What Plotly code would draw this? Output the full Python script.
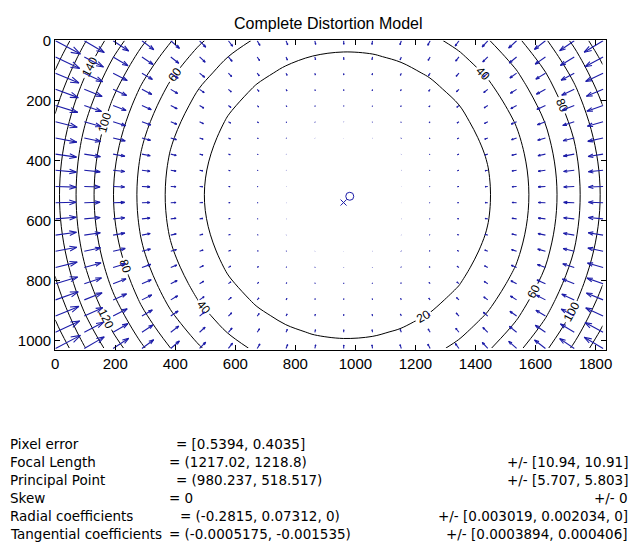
import numpy as np
import plotly.graph_objects as go
import plotly.figure_factory as ff

# ---- calibration results ----
image_size = [1920, 1080]                 # nx, ny
focal_length = [1217.02, 1218.8]
principal_point = [980.237, 518.517]
skew = 0.0
radial_coeffs = [-0.2815, 0.07312, 0.0]
tangential_coeffs = [-0.0005175, -0.001535]

contour_levels = [20, 40, 60, 80, 100, 120, 140, 160, 180, 200]
x_ticks = [0, 200, 400, 600, 800, 1000, 1200, 1400, 1600, 1800]
y_ticks = [0, 200, 400, 600, 800, 1000]

label_lines = ["Pixel error", "Focal Length", "Principal Point", "Skew",
               "Radial coefficients", "Tangential coefficients"]
value_lines = ["= [0.5394, 0.4035]", "= (1217.02, 1218.8)", "= (980.237, 518.517)",
               "= 0", "= (-0.2815, 0.07312, 0)", "= (-0.0005175, -0.001535)"]
error_lines = ["", "+/- [10.94, 10.91]", "+/- [5.707, 5.803]", "+/- 0",
               "+/- [0.003019, 0.002034, 0]", "+/- [0.0003894, 0.000406]"]

# ---- distortion model (as in visualize_distortions) ----
nx, ny = image_size
fc = np.array(focal_length)
cc = np.array(principal_point)
kc = [radial_coeffs[0], radial_coeffs[1], tangential_coeffs[0], tangential_coeffs[1], radial_coeffs[2]]

gx = np.arange(0, nx - 1, nx / 20)
gy = np.arange(0, ny - 1, ny / 20)
MX, MY = np.meshgrid(gx, gy)
yn = (MY - cc[1]) / fc[1]
xn = (MX - cc[0]) / fc[0] - skew * yn
r2 = xn ** 2 + yn ** 2
cdist = 1 + kc[0] * r2 + kc[1] * r2 ** 2 + kc[4] * r2 ** 3
a1 = 2 * xn * yn
a2 = r2 + 2 * xn ** 2
a3 = r2 + 2 * yn ** 2
xd = xn * cdist + kc[2] * a1 + kc[3] * a2
yd = yn * cdist + kc[2] * a3 + kc[3] * a1
DX = fc[0] * (xd + skew * yd) + cc[0] - MX
DY = fc[1] * yd + cc[1] - MY
DR = np.sqrt(DX ** 2 + DY ** 2)

# MATLAB quiver autoscale
px = (MX + 1).ravel()
py = (MY + 1).ravel()
u = DX.ravel()
v = DY.ravel()
delx = (px.max() - px.min()) / 20
dely = (py.max() - py.min()) / 20
maxlen = np.sqrt((u ** 2 + v ** 2) / (delx ** 2 + dely ** 2)).max()
s = 0.9 / maxlen

arrow_color = "#1c1ca8"
q = ff.create_quiver(px, py, u * s, v * s, scale=1, arrow_scale=0.35, angle=0.32,
                     line=dict(color=arrow_color, width=1.1))

fig = go.Figure()
fig.add_trace(go.Contour(
    x=gx, y=gy, z=DR,
    contours=dict(start=contour_levels[0], end=contour_levels[-1],
                  size=contour_levels[1] - contour_levels[0],
                  coloring="none", showlabels=True,
                  labelfont=dict(size=12, color="black", family="Liberation Sans")),
    line=dict(color="black", width=1),
    showscale=False, hoverinfo="skip"))
for tr in q.data:
    tr.showlegend = False
    fig.add_trace(tr)
fig.add_trace(go.Scatter(x=[cc[0] + 1], y=[cc[1] + 1], mode="markers",
                         marker=dict(symbol="circle-open", size=8, color=arrow_color,
                                     line=dict(width=1)), showlegend=False))
fig.add_trace(go.Scatter(x=[(nx - 1) / 2 + 1], y=[(ny - 1) / 2 + 1], mode="markers",
                         marker=dict(symbol="x-thin-open", size=6, color=arrow_color,
                                     line=dict(width=1, color=arrow_color)), showlegend=False))

W, H = 636, 544
L, R, T, B = 52, 612, 32, 347
axis_common = dict(showline=True, linecolor="black", linewidth=1, mirror="ticks",
                   ticks="inside", ticklen=5, tickcolor="black", showgrid=False,
                   zeroline=False, tickfont=dict(family="Liberation Sans", size=15, color="black"))
fig.update_layout(
    width=W, height=H, margin=dict(l=0, r=0, t=0, b=0),
    paper_bgcolor="white", plot_bgcolor="white", showlegend=False,
    xaxis=dict(range=[0, 1836], domain=[L / W, R / W], tickvals=x_ticks, **axis_common),
    yaxis=dict(range=[1033, 0], domain=[(H - B) / H, (H - T) / H], tickvals=y_ticks, **axis_common),
)

def px2paper(xp, yp):
    return xp / W, 1 - yp / H

ann = []
tx, ty = px2paper(330, 15)
ann.append(dict(x=tx, y=ty, xref="paper", yref="paper", text="Complete Distortion Model",
                showarrow=False, xanchor="center", yanchor="middle",
                font=dict(family="Liberation Sans", size=16, color="black")))
value_x = [173, 166, 173, 166, 177, 166]
font_txt = dict(family="DejaVu Sans", size=13.5, color="black")
for i in range(6):
    yy = 442 + i * 18.4
    xl, yl = px2paper(4, yy)
    ann.append(dict(x=xl, y=yl, xref="paper", yref="paper", text=label_lines[i],
                    showarrow=False, xanchor="left", yanchor="middle", font=font_txt))
    xv, _ = px2paper(value_x[i], yy)
    ann.append(dict(x=xv, y=yl, xref="paper", yref="paper", text=value_lines[i],
                    showarrow=False, xanchor="left", yanchor="middle", font=font_txt))
    if error_lines[i]:
        xe, _ = px2paper(636, yy)
        ann.append(dict(x=xe, y=yl, xref="paper", yref="paper", text=error_lines[i],
                        showarrow=False, xanchor="right", yanchor="middle", font=font_txt))
fig.update_layout(annotations=ann)

fig.write_html("out.html")
